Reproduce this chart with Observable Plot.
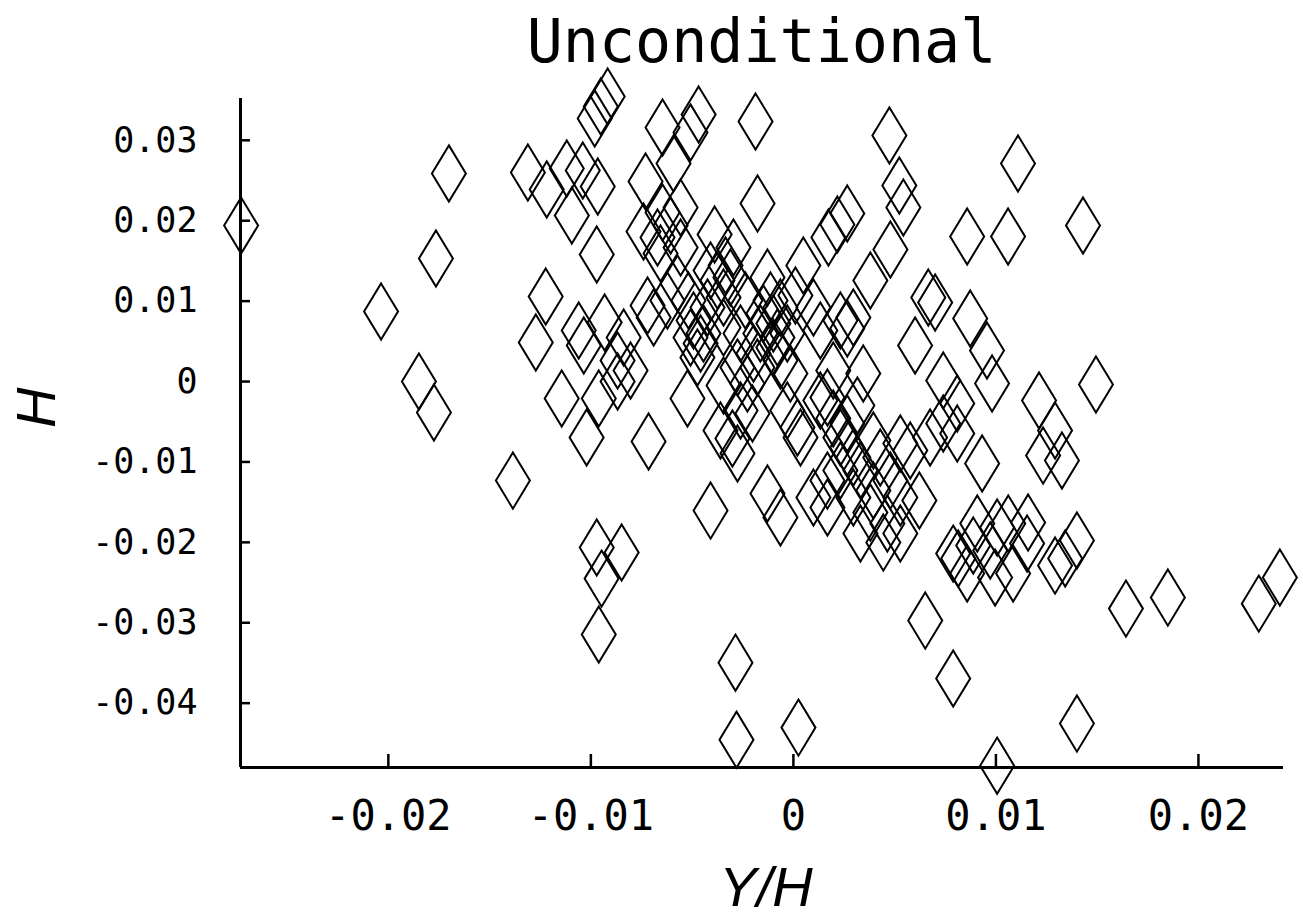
<!DOCTYPE html>
<html>
<head>
<meta charset="utf-8">
<script src="https://cdn.jsdelivr.net/npm/d3@7"></script>
<script src="https://cdn.jsdelivr.net/npm/@observablehq/plot@0.6"></script>
<style>
  html, body { margin: 0; padding: 0; background: #fff; }
  #title {
    margin-left: 240px; width: 1043px; height: 80px; box-sizing: border-box;
    padding-top: 11px; font: 60px "DejaVu Sans Mono", monospace; line-height: 60px;
    text-align: center; color: #000; white-space: nowrap;
  }
</style>
</head>
<body>
<div id="title">Unconditional</div>
<div id="chart"></div>
<script>
// Y/H values (x axis)
const yOverH = [
  -0.02727,-0.02036,-0.01849,-0.01775,-0.01765,-0.01701,-0.01385,-0.01311,-0.01272,-0.01223,
  -0.01218,-0.01144,-0.01119,-0.01094,-0.01060,-0.01035,-0.01021,-0.01040,-0.00971,-0.00966,
  -0.00981,-0.00951,-0.00917,-0.00971,-0.00947,-0.00961,-0.00961,-0.00932,-0.00848,-0.00868,
  -0.00838,-0.00804,-0.00715,-0.00730,-0.00740,-0.00646,-0.00592,-0.00508,-0.00468,-0.00187,
  -0.00177,-0.00286,-0.00281,0.00025,-0.00409,-0.00523,-0.00690,-0.00656,-0.00557,-0.00671,
  -0.00606,-0.00557,-0.00646,-0.00389,-0.00296,-0.00335,-0.00572,-0.00493,-0.00444,-0.00508,
  -0.00375,-0.00345,-0.00311,-0.00424,-0.00128,-0.00113,-0.00148,-0.00099,-0.00064,0.00049,
  0.00099,0.00232,0.00296,0.00266,0.00380,0.00479,0.00173,0.00266,0.00217,0.00474,
  0.00523,0.00543,0.00666,0.00700,0.00601,0.00740,0.00873,0.00956,0.00981,0.00858,
  0.01060,0.01109,0.01430,0.01494,0.01213,0.01292,0.01233,0.01326,0.00932,0.00809,
  0.00740,0.00809,0.00675,0.00528,0.00622,0.01642,0.01849,0.02298,0.02402,0.01400,
  0.01006,0.00789,0.00651,0.00814,0.00858,0.00996,0.01085,0.00972,0.00888,0.01154,
  0.01292,0.01342,0.01400,0.00908,0.01006,0.01061,0.01159,0.00789,-0.00458,-0.00345,
  -0.00261,-0.00197,-0.00276,-0.00079,-0.00064,-0.00015,-0.00030,0.00020,0.00133,0.00197,
  0.00345,0.00133,0.00197,0.00266,0.00232,0.00316,0.00296,0.00099,0.00168,0.00296,
  0.00380,0.00395,0.00464,0.00528,0.00444,0.00528,0.00331,0.00429,0.00331,-0.00128,
  -0.00064,-0.00360,-0.00276,-0.00261,-0.00345,-0.00227,-0.00178,-0.00301,-0.00868,-0.00622,
  -0.00518,-0.00409,-0.00237,0.00010,-0.00720,-0.00202,0.00035,0.00266,0.00395,0.00577,
  0.00168,-0.00474,-0.00163,-0.00099,-0.00030,0.00232,0.00168,0.00479
];
// H values (y axis)
const hValues = [
  0.01940,0.00871,0.00000,-0.00386,0.01530,0.02588,-0.01232,0.02600,0.00485,0.01057,
  0.02389,-0.00211,0.02650,0.02065,0.00634,0.00448,-0.00697,0.02625,0.01580,0.02426,
  0.03272,0.03421,0.03545,-0.02065,-0.02451,-0.03147,-0.00211,0.00734,-0.02127,0.00000,
  0.00547,0.00137,-0.00746,0.02488,0.01866,0.03160,0.02712,0.03098,0.03321,0.03234,
  0.02214,-0.03496,-0.04454,-0.04304,-0.01605,-0.00211,0.00796,0.01592,0.01667,0.01791,
  0.01941,0.02165,0.02102,0.01829,0.01667,0.01443,0.01219,0.00759,0.00597,0.00547,
  0.01256,0.01045,0.01294,0.00921,0.01294,0.01008,0.00846,0.00722,0.00921,0.01443,
  0.00921,0.00759,0.00796,0.00659,0.01256,0.01642,0.01791,0.02090,0.01953,0.03060,
  0.02438,0.02164,0.01045,0.00983,0.00448,0.00012,0.00784,0.00386,-0.00025,0.01804,
  0.01804,0.02712,0.01941,-0.00037,-0.00236,-0.00610,-0.00921,-0.00983,-0.01020,-0.00274,
  -0.00522,-0.00647,-0.00697,-0.00771,-0.01480,-0.02824,-0.02687,-0.02762,-0.02438,-0.04254,
  -0.04777,-0.03694,-0.02973,-0.02201,-0.02388,-0.02438,-0.02388,-0.02102,-0.02040,-0.02015,
  -0.02289,-0.02201,-0.01978,-0.01766,-0.01816,-0.01766,-0.01754,-0.02140,0.00473,0.00672,
  0.00597,0.00348,0.00174,0.00547,0.00261,0.00100,-0.00361,-0.00572,0.00634,0.00137,
  0.00100,-0.00236,-0.00460,-0.00522,-0.00697,-0.00299,-0.00945,-0.01443,-0.01567,-0.01443,
  -0.01630,-0.01356,-0.01766,-0.01443,-0.02003,-0.01891,-0.01107,-0.00945,-0.01891,-0.01393,
  -0.01692,-0.00610,-0.00896,-0.00361,-0.00050,-0.00025,0.00174,-0.00709,0.00261,0.01008,
  0.01008,0.01381,0.01008,0.01070,0.00945,-0.00398,-0.00697,-0.00821,-0.00734,-0.00858,
  -0.00199,0.00299,0.00597,0.00423,0.00597,-0.01107,-0.01232,-0.01232
];
const xTicks = [-0.02, -0.01, 0, 0.01, 0.02];
const xTickLabels = ["-0.02", "-0.01", "0", "0.01", "0.02"];
const yTicks = [-0.04, -0.03, -0.02, -0.01, 0, 0.01, 0.02, 0.03];
const yTickLabels = ["-0.04", "-0.03", "-0.02", "-0.01", "0", "0.01", "0.02", "0.03"];
const xDomain = [-0.0273, 0.0242];
const yDomain = [-0.0480, 0.0352];

const points = yOverH.map((x, i) => ({x, y: hValues[i]}));

// tall rhombus marker
const tallDiamond = {
  draw(context, size) {
    const r = Math.sqrt(size / Math.PI);
    const w = r, h = r * 1.65;
    context.moveTo(0, -h);
    context.lineTo(w, 0);
    context.lineTo(0, h);
    context.lineTo(-w, 0);
    context.closePath();
  }
};

const W = 1303, H = 841;
const mT = 18, mB = 154, mL = 240, mR = 20;
const frameW = W - mL - mR, frameH = H - mT - mB;
const mono = "DejaVu Sans Mono";

const chart = Plot.plot({
  width: W, height: H,
  marginTop: mT, marginBottom: mB, marginLeft: mL, marginRight: mR,
  style: {background: "white", color: "black", overflow: "visible"},
  x: {domain: xDomain, axis: null},
  y: {domain: yDomain, axis: null},
  marks: [
    Plot.dot(points, {x: "x", y: "y", symbol: tallDiamond, r: 17, fill: "none", stroke: "black", strokeWidth: 2}),
    Plot.tickX(xTicks, {x: d => d, insetTop: frameH - 13, stroke: "black", strokeWidth: 2.5}),
    Plot.tickY(yTicks, {y: d => d, insetRight: frameW - 10, stroke: "black", strokeWidth: 2.5}),
    Plot.ruleX([xDomain[0]], {stroke: "black", strokeWidth: 3}),
    Plot.ruleY([yDomain[0]], {stroke: "black", strokeWidth: 3}),
    Plot.text(xTicks, {x: d => d, frameAnchor: "bottom", text: (d, i) => xTickLabels[i], lineAnchor: "top", dy: 33, fontSize: 42, fontFamily: mono, fill: "black"}),
    Plot.text(yTicks, {y: d => d, frameAnchor: "left", textAnchor: "end", dx: -43, text: (d, i) => yTickLabels[i], lineAnchor: "middle", fontSize: 35, fontFamily: mono, fill: "black"}),
    Plot.text(["Y/H"], {frameAnchor: "bottom", text: d => d, lineAnchor: "bottom", dy: 138, dx: 4, fontSize: 56, fontStyle: "italic", fontFamily: "Liberation Sans", fill: "black"}),
    Plot.text(["H"], {frameAnchor: "left", text: d => d, dx: -203, dy: -5, rotate: -90, lineAnchor: "middle", fontSize: 56, fontStyle: "italic", fontFamily: "Liberation Sans", fill: "black"})
  ]
});
document.getElementById("chart").appendChild(chart);
</script>
</body>
</html>
